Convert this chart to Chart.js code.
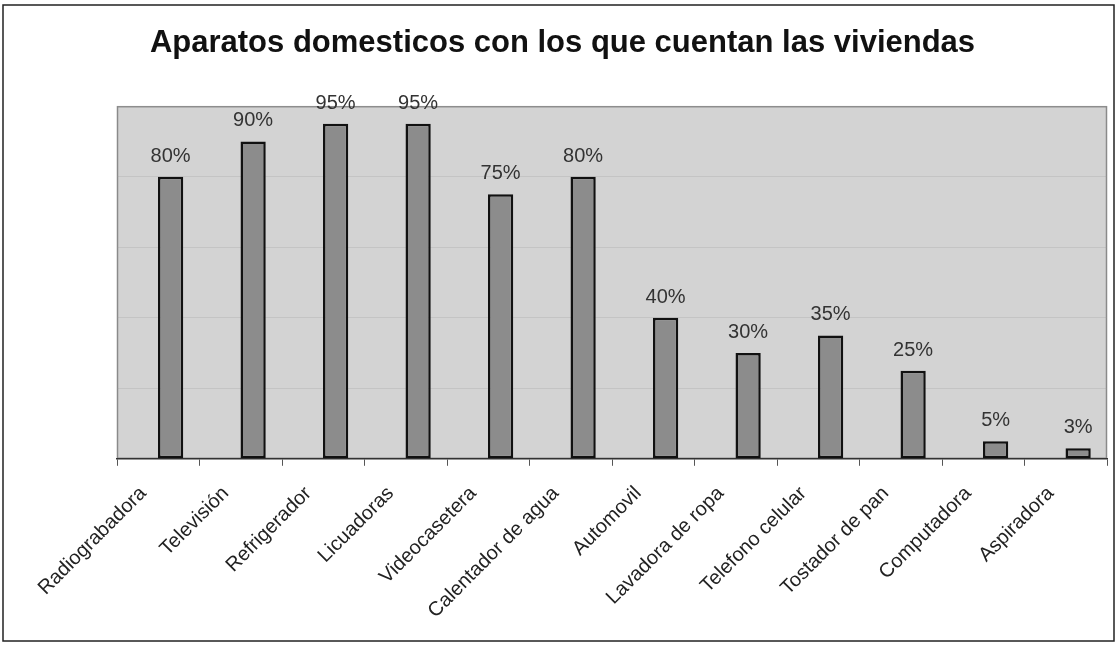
<!DOCTYPE html>
<html>
<head>
<meta charset="utf-8">
<script src="https://cdn.jsdelivr.net/npm/chart.js@4/dist/chart.umd.min.js"></script>
<style>
  html, body { margin: 0; padding: 0; background: #fff; }
  #wrap { width: 1117px; height: 647px; position: relative; }
</style>
</head>
<body>
<div id="wrap"><canvas id="aparatosChart"></canvas></div>
<script>
const categories = ["Radiograbadora", "Televisión", "Refrigerador", "Licuadoras", "Videocasetera",
  "Calentador de agua", "Automovil", "Lavadora de ropa", "Telefono celular", "Tostador de pan",
  "Computadora", "Aspiradora"];
const porcentajes = [80, 90, 95, 95, 75, 80, 40, 30, 35, 25, 5, 3];
// serie vacia: en el original las barras quedan a la derecha del centro de cada categoria
const espacio = [null, null, null, null, null, null, null, null, null, null, null, null];
const yTicks = [0, 20, 40, 60, 80, 100];

// fondo gris del area de trazado, marco exterior y etiquetas de valor
const fondoPlugin = {
  id: "fondo",
  beforeDraw(chart) {
    const { ctx, chartArea: a } = chart;
    ctx.save();
    ctx.fillStyle = "#d3d3d3";
    ctx.fillRect(a.left, a.top, a.right - a.left, a.bottom - a.top);
    ctx.strokeStyle = "#8a8a8a";
    ctx.lineWidth = 1.5;
    ctx.strokeRect(a.left + 0.5, a.top + 0.5, a.right - a.left - 1, a.bottom - a.top - 1);
    ctx.strokeStyle = "#222";
    ctx.lineWidth = 1.5;
    ctx.strokeRect(3, 5, 1111, 636);
    ctx.restore();
  },
  afterDatasetsDraw(chart) {
    const { ctx } = chart;
    const meta = chart.getDatasetMeta(1);
    ctx.save();
    ctx.font = "20px 'Liberation Sans', Arial, sans-serif";
    ctx.fillStyle = "#333";
    ctx.textAlign = "center";
    ctx.textBaseline = "alphabetic";
    meta.data.forEach((bar, i) => {
      ctx.fillText(porcentajes[i] + "%", bar.x, bar.y - 15);
    });
    ctx.restore();
  }
};

const ctx = document.getElementById("aparatosChart").getContext("2d");
new Chart(ctx, {
  type: "bar",
  data: {
    labels: categories,
    datasets: [
      {
        label: "",
        data: espacio,
        barPercentage: 1.02,
        categoryPercentage: 0.6,
      },
      {
        label: "Porcentaje",
        data: porcentajes,
        backgroundColor: "#8c8c8c",
        borderColor: "#111",
        borderWidth: 2.5,
        borderSkipped: false,
        barPercentage: 1.02,
        categoryPercentage: 0.6,
      },
    ],
  },
  options: {
    responsive: true,
    maintainAspectRatio: false,
    animation: false,
    layout: { padding: { left: 18, right: 10, top: 0, bottom: 8 } },
    plugins: {
      legend: { display: false },
      tooltip: { enabled: false },
      title: {
        display: true,
        text: "Aparatos domesticos con los que cuentan las viviendas",
        font: { family: "'Liberation Sans', Arial, sans-serif", size: 31, weight: "bold" },
        color: "#111",
        padding: { top: 25, bottom: 44 },
      },
    },
    scales: {
      x: {
        grid: { display: true, drawOnChartArea: false, offset: true, color: "#555", tickLength: 7 },
        border: { color: "#333", width: 1.5 },
        ticks: {
          maxRotation: 45,
          minRotation: 45,
          color: "#222",
          font: { family: "'Liberation Sans', Arial, sans-serif", size: 20 },
          padding: 16,
          labelOffset: -15,
        },
      },
      y: {
        min: 0,
        max: 100,
        afterBuildTicks(axis) {
          axis.ticks = yTicks.map((v) => ({ value: v }));
        },
        afterFit(axis) {
          axis.width = 99;
        },
        grid: { color: "rgba(150,150,150,0.25)", drawTicks: false },
        border: { display: false },
        ticks: { display: false },
      },
    },
  },
  plugins: [fondoPlugin],
});
</script>
</body>
</html>
